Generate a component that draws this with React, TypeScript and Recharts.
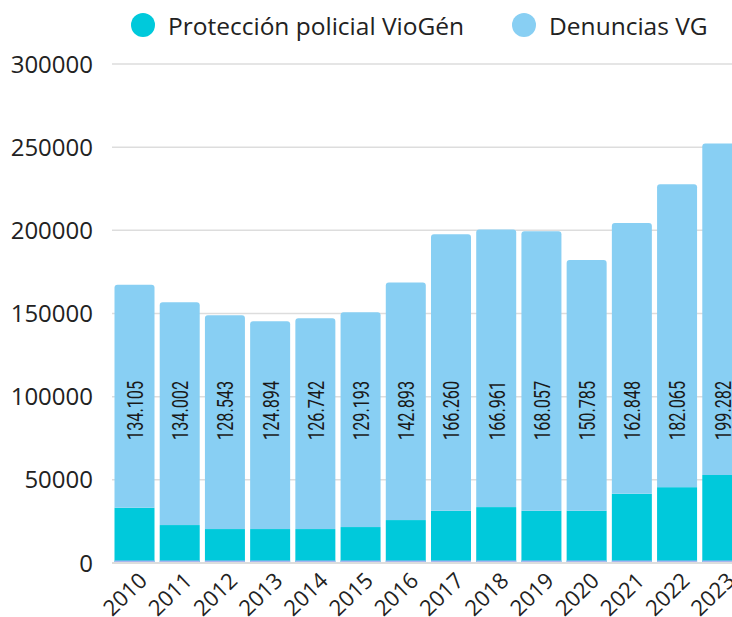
import React from 'react';
import { BarChart, Bar, XAxis, YAxis, CartesianGrid, Legend, LabelList } from 'recharts';

const years = ['2010', '2011', '2012', '2013', '2014', '2015', '2016', '2017', '2018', '2019', '2020', '2021', '2022', '2023'];
const proteccion = [33200, 22800, 20400, 20400, 20400, 21600, 25800, 31400, 33600, 31400, 31400, 41600, 45600, 52900];
const denuncias = [134105, 134002, 128543, 124894, 126742, 129193, 142893, 166260, 166961, 168057, 150785, 162848, 182065, 199282];
const yTicks = [0, 50000, 100000, 150000, 200000, 250000, 300000];

const TEAL = '#00c9db';
const LIGHT = '#88cff3';
const STRIP = '#a9b6ef';
const LABEL_END_Y = 432;

const data = years.map((year, i) => ({ year, proteccion: proteccion[i], denuncias: denuncias[i] }));

const fmt = (v: number) => v.toLocaleString('de-DE');

// bottom segment: teal bar with a thin lavender strip at the base
const BaseShape = (props: any) => {
  const { x, y, width, height } = props;
  if (!height) return null;
  return (
    <g>
      <rect x={x} y={y} width={width} height={height} fill={TEAL} />
      <rect x={x} y={y + height - 2.5} width={width} height={2.5} fill={STRIP} />
    </g>
  );
};

// condensed vertical value label, sitting at a fixed height
const ValueLabel = (props: any) => {
  const { x, width, value } = props;
  const cx = x + width / 2 + 1;
  return (
    <text
      transform={`translate(${cx} ${LABEL_END_Y}) rotate(-90) scale(0.74 1)`}
      textAnchor="start"
      dominantBaseline="central"
      fill="#1a1a1a"
      fontSize={22}
      fontFamily="Roboto, sans-serif"
    >
      {fmt(value)}
    </text>
  );
};

const dot = (color: string) => (
  <span style={{ width: 24, height: 24, borderRadius: 12, background: color, display: 'inline-block', marginRight: 1 }} />
);

const LegendContent = () => (
  <div style={{ display: 'flex', alignItems: 'center', height: 34, paddingLeft: 123, fontFamily: "'Open Sans', sans-serif", fontSize: 24.5, color: '#222', whiteSpace: 'nowrap' }}>
    {dot(TEAL)}
    <span style={{ marginLeft: 12, marginRight: 48 }}>Protección policial VioGén</span>
    {dot(LIGHT)}
    <span style={{ marginLeft: 12 }}>Denuncias VG</span>
  </div>
);

const App: React.FC = () => {
  return (
    <div style={{ position: 'fixed', top: 0, left: 0, width: 732, height: 617, overflow: 'hidden', background: '#fff' }}>
      <div style={{ position: 'absolute', top: 8, left: 8 }}>
        <BarChart
          width={737}
          height={609}
          data={data}
          margin={{ top: 22, right: 0, bottom: 0, left: 0 }}
          barCategoryGap={2.5}
          style={{ fontFamily: "'Open Sans', sans-serif" }}
        >
          <Legend verticalAlign="top" align="left" content={<LegendContent />} wrapperStyle={{ top: 0, left: 0 }} />
          <CartesianGrid vertical={false} stroke="#dddddd" strokeWidth={1.5} />
          <XAxis
            dataKey="year"
            interval={0}
            height={54}
            tickLine={false}
            axisLine={{ stroke: '#dddddd', strokeWidth: 2 }}
            tick={{ fill: '#222', fontSize: 22, angle: -44, textAnchor: 'end', dx: 3, dy: 2 }}
            tickMargin={0}
          />
          <YAxis
            domain={[0, 300000]}
            ticks={yTicks}
            width={104}
            axisLine={false}
            tickLine={false}
            tickMargin={13}
            tick={{ fill: '#222', fontSize: 24 }}
          />
          <Bar dataKey="proteccion" stackId="a" fill={TEAL} shape={<BaseShape />} isAnimationActive={false} />
          <Bar dataKey="denuncias" stackId="a" fill={LIGHT} radius={[3, 3, 0, 0]} isAnimationActive={false}>
            <LabelList dataKey="denuncias" content={<ValueLabel />} />
          </Bar>
        </BarChart>
      </div>
    </div>
  );
};

export default App;
